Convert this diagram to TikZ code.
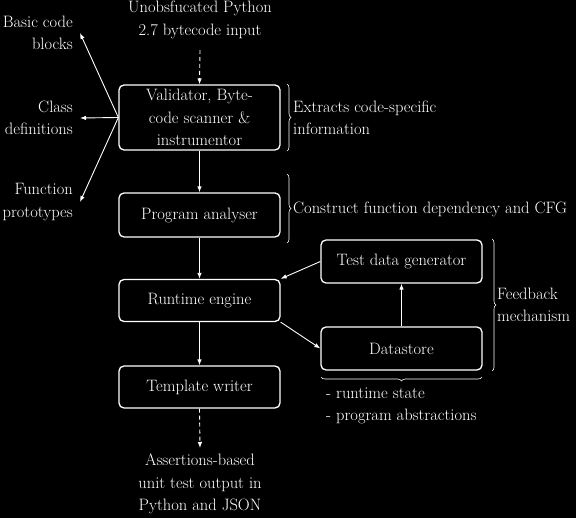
\documentclass[tikz,border=0pt]{standalone}
\usetikzlibrary{arrows.meta,decorations.pathreplacing}
\begin{document}
\begin{tikzpicture}[x=1pt,y=-1pt,
  every node/.style={text=white,font=\fontsize{16.5}{22.5}\selectfont},
  proc/.style={draw=white,line width=1.3pt,rounded corners=5pt,minimum width=161pt,inner sep=0pt,align=center},
  lbl/.style={inner sep=0pt},
  arr/.style={draw=white,line width=0.9pt,-{Latex[length=6pt,width=4.5pt]}},
  darr/.style={arr,dash pattern=on 4pt off 3pt},
  brc/.style={draw=white,line width=0.6pt,decorate,decoration={brace,amplitude=4pt}}]
\fill[black] (0,0) rectangle (576,518);
\useasboundingbox (0,0) rectangle (576,518);
% main boxes
\node[proc,minimum height=65pt] (val) at (199.5,117.5) {Validator, Byte-\\code scanner \&\\instrumentor};
\node[proc,minimum height=44pt] (pa) at (199.5,215) {Program analyser};
\node[proc,minimum height=42pt] (re) at (199.5,300.5) {Runtime engine};
\node[proc,minimum height=42pt] (tw) at (199.5,387) {Template writer};
\node[proc,minimum height=43pt] (tdg) at (401.5,261.5) {Test data generator};
\node[proc,minimum height=43pt] (ds) at (401.5,348.5) {Datastore};
% texts
\node[lbl,align=center] (in) at (200,20) {Unobsfucated Python\\2.7 bytecode input};
\node[lbl,align=center] (out) at (200,484) {Assertions-based\\unit test output in\\Python and JSON};
\node[lbl,align=left,anchor=west] (ex) at (293,118) {Extracts code-specific\\information};
\node[lbl,align=left,anchor=west] (cf) at (293,209) {Construct function dependency and CFG};
\node[lbl,align=left,anchor=west] (fb) at (497,305) {Feedback\\mechanism};
\node[lbl,align=left,anchor=west] (rs) at (326,406) {- runtime state\\- program abstractions};
\node[lbl,align=right,anchor=east] (bc) at (73,33) {Basic code\\blocks};
\node[lbl,align=right,anchor=east] (cd) at (73,118) {Class\\definitions};
\node[lbl,align=right,anchor=east] (fp) at (73,202) {Function\\prototypes};
\coordinate (bct) at (80,33);
\coordinate (cdt) at (80,118);
\coordinate (fpt) at (80,202);
\coordinate (ins) at (200,50);
\coordinate (outn) at (200,448);
% connectors
\draw[darr] (ins) -- (val.north);
\draw[arr] (val) -- (pa);
\draw[arr] (pa) -- (re);
\draw[arr] (re) -- (tw);
\draw[darr] (tw.south) -- (outn);
\draw[arr] (val.west) -- (bct);
\draw[arr] (val.west) -- (cdt);
\draw[arr] (val.west) -- (fpt);
\draw[arr] (tdg.west) -- (re.north east);
\draw[arr] (re.south east) -- (ds.west);
\draw[arr] (ds) -- (tdg);
% braces
\draw[brc] (287,84) -- (287,151);
\draw[brc] (287,174) -- (287,243);
\draw[brc] (492,239) -- (492,371);
\draw[brc] (482,377) -- (321,377);
\end{tikzpicture}
\end{document}
